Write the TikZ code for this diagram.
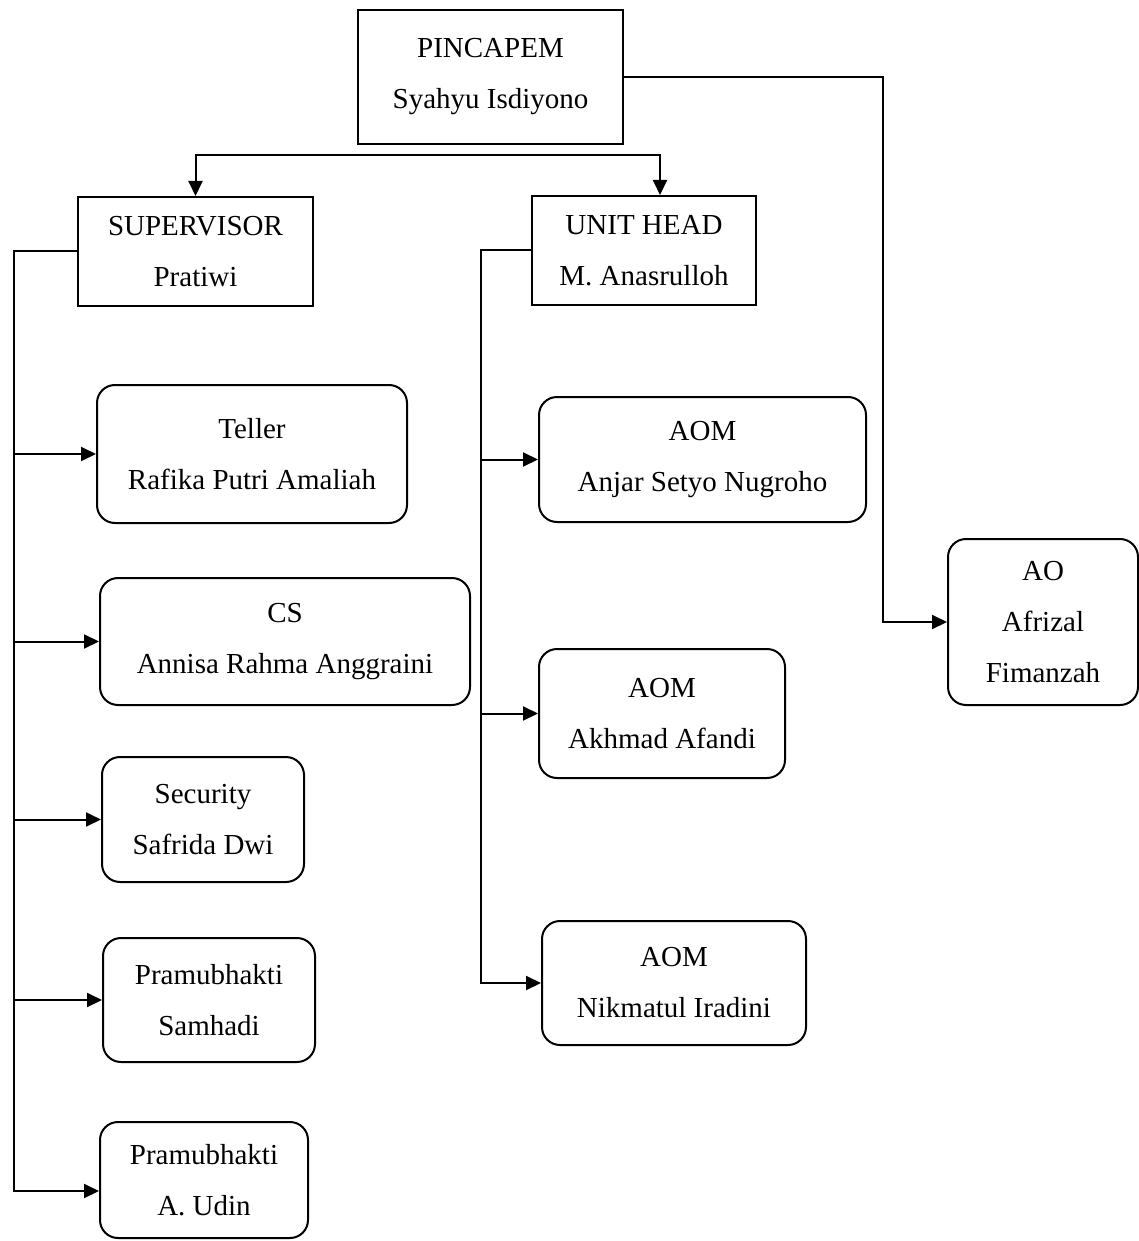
\documentclass[tikz,border=0pt]{standalone}
\usepackage{fontspec}
\setmainfont{Liberation Serif}
\usetikzlibrary{arrows.meta}

\begin{document}
\begin{tikzpicture}[x=0.5pt,y=-0.5pt,font=\fontsize{14.5}{25.5}\selectfont,line width=1pt,
  box/.style={draw,align=center,inner sep=0pt},
  rbox/.style={box,rounded corners=9pt},
  arr/.style={-{Triangle[length=7.5pt,width=7pt]}}]
  \useasboundingbox (0,0) rectangle (1139,1241);

  % top level
  \node[box,minimum width=132.5pt,minimum height=67pt] (pincapem) at (490.5,77) {PINCAPEM\\Syahyu Isdiyono};
  \node[box,minimum width=117.5pt,minimum height=54.5pt] (supervisor) at (195.5,251.5) {SUPERVISOR\\Pratiwi};
  \node[box,minimum width=112pt,minimum height=54.5pt] (unithead) at (644,250.5) {UNIT HEAD\\M. Anasrulloh};

  % staff under supervisor
  \node[rbox,minimum width=155pt,minimum height=69pt] (teller) at (252,454) {Teller\\Rafika Putri Amaliah};
  \node[rbox,minimum width=185pt,minimum height=63.5pt] (cs) at (285,641.5) {CS\\Annisa Rahma Anggraini};
  \node[rbox,minimum width=101pt,minimum height=62.5pt] (security) at (203,819.5) {Security\\Safrida Dwi};
  \node[rbox,minimum width=106pt,minimum height=62pt] (samhadi) at (209,1000) {Pramubhakti\\Samhadi};
  \node[rbox,minimum width=104pt,minimum height=58pt] (udin) at (204,1180) {Pramubhakti\\A. Udin};

  % staff under unit head
  \node[rbox,minimum width=163.5pt,minimum height=62.5pt] (aomA) at (702.5,459.5) {AOM\\Anjar Setyo Nugroho};
  \node[rbox,minimum width=123pt,minimum height=64.5pt] (aomB) at (662,713.5) {AOM\\Akhmad Afandi};
  \node[rbox,minimum width=132pt,minimum height=62pt] (aomC) at (674,983) {AOM\\Nikmatul Iradini};
  \node[rbox,minimum width=95pt,minimum height=83pt] (ao) at (1043,622) {AO\\Afrizal\\Fimanzah};

  \coordinate (split) at ([yshift=-5pt]pincapem.south);
  \coordinate (lbus) at (14,0);
  \coordinate (mbus) at (481,0);
  \coordinate (rbus) at (883,0);
  \coordinate (udinin) at ([yshift=-5.5pt]udin.west);

  \draw[arr] (split) -| (supervisor.north);
  \draw[arr] (split) -| ([xshift=8pt]unithead.north);
  \draw[arr] (pincapem.east) -| (rbus |- ao.west) -- (ao.west);

  \draw[arr] (supervisor.west) -| (lbus |- udinin) -- (udinin);
  \foreach \n in {teller,cs,security,samhadi}
    \draw[arr] (lbus |- \n.west) -- (\n.west);

  \draw[arr] (unithead.west) -| (mbus |- aomC.west) -- (aomC.west);
  \foreach \n in {aomA,aomB}
    \draw[arr] (mbus |- \n.west) -- (\n.west);
\end{tikzpicture}
\end{document}
